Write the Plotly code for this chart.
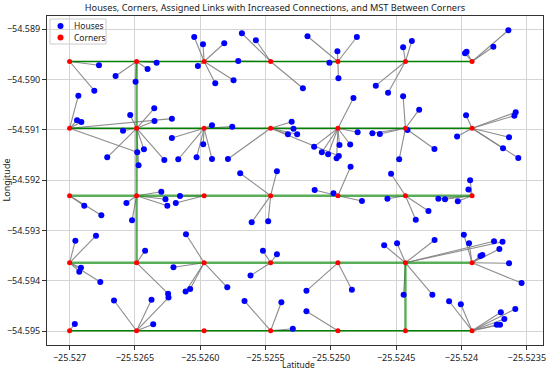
import plotly.graph_objects as go

# ---- corner grid (lon = x, lat = y) ----
corner_col_lon = [-25.527000, -25.526487, -25.525970, -25.525461, -25.524946, -25.524429, -25.523919]
corner_row_lat = [-54.589640, -54.590968, -54.592308, -54.593642, -54.594992]

corners_lon = [lon for lat in corner_row_lat for lon in corner_col_lon]
corners_lat = [lat for lat in corner_row_lat for lon in corner_col_lon]

# ---- houses: lon, lat, assigned corner id (row*7 + col) ----
houses_lon = [
    # row 1
    -25.526775, -25.526811,
    -25.526648, -25.526403, -25.526334, -25.526495,
    -25.526046, -25.525979, -25.526018, -25.525885, -25.525816, -25.525745,
    -25.525681, -25.525574, -25.525709, -25.525214,
    -25.525179, -25.524801, -25.524950, -25.525011, -25.524942,
    -25.524656, -25.524447, -25.524380, -25.524562,
    -25.523973, -25.523961, -25.523756, -25.523641,
    # row 2
    -25.526933, -25.526943, -25.526910, -25.526217, -25.526482,
    -25.526536, -25.526352, -25.526350, -25.526591, -25.526431, -25.526275, -25.526712, -25.526472,
    -25.526217, -25.526168, -25.526028, -25.525977, -25.525910, -25.525910, -25.525755,
    -25.525788, -25.525300, -25.525286, -25.525329, -25.525258, -25.524939,
    -25.524827, -25.524795, -25.525128, -25.525069, -25.525021, -25.524956, -25.524934, -25.524852,
    -25.524447, -25.524324, -25.524625, -25.524682, -25.524414, -25.524207, -25.524477,
    -25.523965, -25.523585, -25.523595, -25.524034, -25.523636, -25.523682, -25.523565,
    # row 3
    -25.526888, -25.526757,
    -25.526298, -25.526266, -25.526252, -25.526565, -25.526522,
    -25.526155, -25.526187,
    -25.525694, -25.525413, -25.525606, -25.525480,
    -25.524849, -25.525124, -25.524980, -25.524762,
    -25.524539, -25.524567, -25.524253, -25.524350,
    -25.524177, -25.524126, -25.524028, -25.523934, -25.523947,
    # row 4
    -25.526956, -25.526798, -25.526913, -25.526926, -25.526765,
    -25.526422, -25.526246,
    -25.526109, -25.526205, -25.526112, -25.526077, -25.525793,
    -25.525520, -25.525413, -25.525615,
    -25.525187, -25.524839,
    -25.524592, -25.524493, -25.524206, -25.524443, -25.524223, -25.523751, -25.523686,
    -25.523982, -25.523942, -25.523710, -25.523855, -25.523840, -25.523636, -25.523540,
    # row 5
    -25.526960,
    -25.526660, -25.526373, -25.526243, -25.526360,
    -25.525661, -25.525379, -25.525291,
    -25.525187,
    -25.524095, -25.524005, -25.523699, -25.523588, -25.523672, -25.523730, -25.523705,
]
houses_lat = [
    # row 1
    -54.589716, -54.590221,
    -54.589928, -54.589789, -54.589664, -54.590042,
    -54.589153, -54.589298, -54.589730, -54.590074, -54.589278, -54.590014,
    -54.589080, -54.589219, -54.589630, -54.590173,
    -54.589139, -54.589153, -54.589437, -54.589664, -54.589974,
    -54.590121, -54.589358, -54.589233, -54.590260,
    -54.589477, -54.589447, -54.589346, -54.589020,
    # row 2
    -54.590320, -54.590809, -54.590843, -54.590777, -54.591445,
    -54.590704, -54.590571, -54.590823, -54.591016, -54.591386, -54.591598, -54.591545, -54.591704,
    -54.591161, -54.591584, -54.591545, -54.591286, -54.591578, -54.590908, -54.590936,
    -54.591578, -54.590839, -54.590978, -54.591085, -54.591085, -54.591519,
    -54.590366, -54.591046, -54.591334, -54.591445, -54.591485, -54.591565, -54.591300, -54.591290,
    -54.590332, -54.590598, -54.591081, -54.591068, -54.591002, -54.591380, -54.591584,
    -54.590710, -54.590650, -54.590718, -54.591131, -54.591145, -54.591366, -54.591559,
    # row 3
    -54.592507, -54.592698,
    -54.592229, -54.592380, -54.592507, -54.592453, -54.592797,
    -54.592314, -54.592453,
    -54.591861, -54.591823, -54.592837, -54.592815,
    -54.591732, -54.592195, -54.592260, -54.592413,
    -54.591871, -54.592368, -54.592612, -54.592785,
    -54.592368, -54.592380, -54.592419, -54.592002, -54.592185,
    # row 4
    -54.593203, -54.593103, -54.593739, -54.593819, -54.594024,
    -54.593401, -54.594256,
    -54.593075, -54.593729, -54.594213, -54.594163, -54.594129,
    -54.593401, -54.593471, -54.593895,
    -54.594199, -54.594177,
    -54.593294, -54.593252, -54.593189, -54.594276, -54.594276, -54.593213, -54.593223,
    -54.593083, -54.593252, -54.593368, -54.593507, -54.593487, -54.593652, -54.594044,
    # row 5
    -54.594859,
    -54.594391, -54.594378, -54.594332, -54.594863,
    -54.594401, -54.594425, -54.594954,
    -54.594606,
    -54.594407, -54.594467, -54.594626, -54.594560, -54.594759, -54.594873, -54.594873,
]
house_corner = (
    [0] * 2 + [1] * 4 + [2] * 6 + [3] * 4 + [4] * 5 + [5] * 4 + [6] * 4
    + [7] * 5 + [8] * 8 + [9] * 7 + [10] * 6 + [11] * 8 + [12] * 7 + [13] * 7
    + [14] * 2 + [15] * 5 + [16] * 2 + [17] * 4 + [18] * 4 + [19] * 4 + [20] * 5
    + [21] * 5 + [22] * 2 + [23] * 5 + [24] * 3 + [25] * 2 + [26] * 7 + [27] * 7
    + [28] * 1 + [29] * 4 + [31] * 3 + [32] * 1 + [34] * 7
)

# MST edges between corners (corner ids)
mst_edges_dark = [(0, 1), (1, 2), (2, 3), (3, 4), (4, 5), (5, 6),
                  (7, 8), (8, 9), (9, 10), (10, 11), (11, 12), (12, 13),
                  (28, 29), (29, 30), (30, 31), (31, 32), (32, 33), (33, 34)]
mst_edges_light = [(14, 15), (15, 16), (16, 17), (17, 18), (18, 19), (19, 20),
                   (21, 22), (22, 23), (23, 24), (24, 25), (25, 26), (26, 27),
                   (1, 8), (8, 15), (15, 22), (26, 33)]

x_tickvals = [-25.527, -25.5265, -25.5260, -25.5255, -25.5250, -25.5245, -25.524, -25.5235]
x_ticktext = ["\u221225.527", "\u221225.5265", "\u221225.5260", "\u221225.5255",
              "\u221225.5250", "\u221225.5245", "\u221225.524", "\u221225.5235"]
y_tickvals = [-54.589, -54.590, -54.591, -54.592, -54.593, -54.594, -54.595]
y_ticktext = ["\u221254.589", "\u221254.590", "\u221254.591", "\u221254.592",
              "\u221254.593", "\u221254.594", "\u221254.595"]

legend_labels = ["Houses", "Corners"]
legend_colors = ["#0000ff", "#ff0000"]

# ---- build line segments ----
link_x, link_y = [], []
for hx, hy, c in zip(houses_lon, houses_lat, house_corner):
    link_x += [hx, corners_lon[c], None]
    link_y += [hy, corners_lat[c], None]


def edge_xy(edges):
    ex, ey = [], []
    for a, b in edges:
        ex += [corners_lon[a], corners_lon[b], None]
        ey += [corners_lat[a], corners_lat[b], None]
    return ex, ey


dx, dy = edge_xy(mst_edges_dark)
lx, ly = edge_xy(mst_edges_light)

W, H = 550, 372
ML, MR, MT, MB = 47, 7, 16, 27
PW, PH = W - ML - MR, H - MT - MB


def px2paper(px, py):
    return (px - ML) / PW, (H - MB - py) / PH


FONT = "Noto Sans"
TXT = "#222222"
fig = go.Figure()
fig.add_trace(go.Scatter(x=link_x, y=link_y, mode="lines", showlegend=False,
                         line=dict(color="rgba(128,128,128,0.9)", width=1.1), hoverinfo="skip"))
fig.add_trace(go.Scatter(x=lx, y=ly, mode="lines", showlegend=False,
                         line=dict(color="rgba(20,140,20,0.7)", width=2.4), hoverinfo="skip"))
fig.add_trace(go.Scatter(x=dx, y=dy, mode="lines", showlegend=False,
                         line=dict(color="#008000", width=1.5), hoverinfo="skip"))
fig.add_trace(go.Scatter(x=houses_lon, y=houses_lat, mode="markers", name="Houses", showlegend=False,
                         marker=dict(color="#0000ff", size=6)))
fig.add_trace(go.Scatter(x=corners_lon, y=corners_lat, mode="markers", name="Corners", showlegend=False,
                         marker=dict(color="#ff0000", size=5)))

# compact legend drawn on an overlay axis in paper-like units
leg_x, leg_y = [], []
for i in range(len(legend_labels)):
    mx, my = px2paper(60.5, 26 + 11.5 * i)
    leg_x.append(mx)
    leg_y.append(my)
fig.add_trace(go.Scatter(x=leg_x, y=leg_y, xaxis="x2", yaxis="y2", mode="markers",
                         showlegend=False, hoverinfo="skip",
                         marker=dict(color=legend_colors, size=6)))

axis_common = dict(showgrid=True, gridcolor="#d4d4d4", gridwidth=1, zeroline=False,
                   showline=True, mirror=True, linecolor="#333333", linewidth=1,
                   ticks="outside", ticklen=4, tickcolor="#333333", automargin=False,
                   tickfont=dict(family=FONT, size=9, color=TXT))

bx0, by0 = px2paper(50, 44)
bx1, by1 = px2paper(106, 19)
annotations = [
    dict(text="Latitude", xref="paper", yref="paper", x=px2paper(298, 0)[0], y=px2paper(0, 364)[1],
         showarrow=False, xanchor="center", yanchor="middle",
         font=dict(family=FONT, size=8.5, color=TXT)),
    dict(text="Longitude", xref="paper", yref="paper", x=px2paper(6, 0)[0], y=0.5, showarrow=False,
         textangle=-90, xanchor="center", yanchor="middle", font=dict(family=FONT, size=9, color=TXT)),
]
for i, lab in enumerate(legend_labels):
    tx, ty = px2paper(72, 26 + 11.5 * i)
    annotations.append(dict(text=lab, xref="paper", yref="paper", x=tx, y=ty, showarrow=False,
                            xanchor="left", yanchor="middle",
                            font=dict(family=FONT, size=8.5, color=TXT)))

fig.update_layout(
    width=W, height=H,
    margin=dict(l=ML, r=MR, t=MT, b=MB),
    paper_bgcolor="white", plot_bgcolor="white",
    showlegend=False,
    title=dict(text="Houses, Corners, Assigned Links with Increased Connections, and MST Between Corners",
               x=0.5, xanchor="center", y=1 - 8 / H, yanchor="middle",
               font=dict(family=FONT, size=9.2, color=TXT)),
    xaxis=dict(range=[-25.527173, -25.523376], tickvals=x_tickvals, ticktext=x_ticktext, **axis_common),
    yaxis=dict(range=[-54.595276, -54.588736], tickvals=y_tickvals, ticktext=y_ticktext, **axis_common),
    xaxis2=dict(overlaying="x", range=[0, 1], visible=False, anchor="y2", fixedrange=True),
    yaxis2=dict(overlaying="y", range=[0, 1], visible=False, anchor="x2", fixedrange=True),
    shapes=[dict(type="rect", xref="paper", yref="paper", x0=bx0, y0=by0, x1=bx1, y1=by1,
                 line=dict(color="#cccccc", width=1), fillcolor="rgba(255,255,255,0.9)", layer="below")],
    annotations=annotations,
)

fig.write_html("out.html", config={"displayModeBar": False},
               post_script="document.body.style.margin='0';document.body.style.padding='0';")
